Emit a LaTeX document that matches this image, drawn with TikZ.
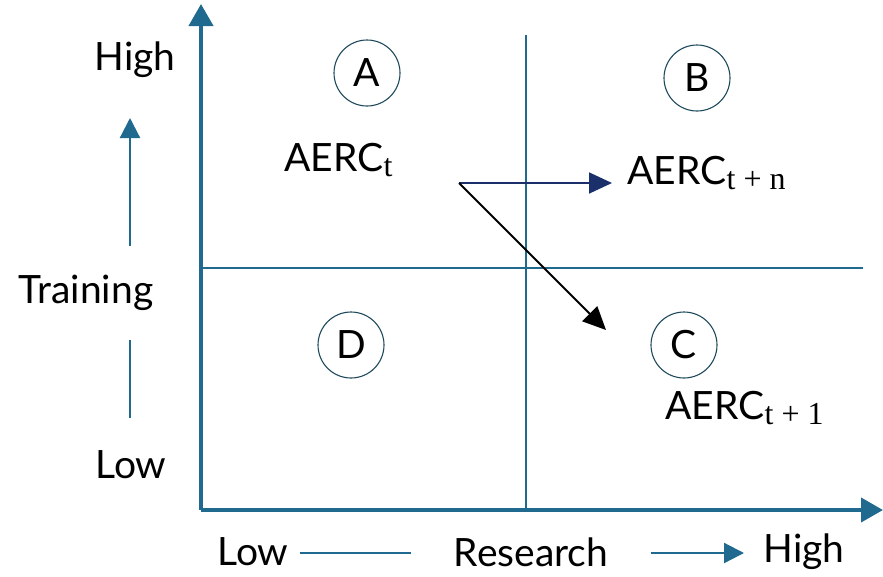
\documentclass[tikz,border=0pt]{standalone}
\usepackage{amsmath}
\usepackage{fontspec}
\setmainfont{Lato}
\newfontfamily\subfont{Liberation Serif}
\usepackage{tikz}
\usetikzlibrary{arrows.meta}
\usetikzlibrary{positioning}
\definecolor{axisblue}{HTML}{1F6A8E}
\definecolor{ringblue}{HTML}{1E4A5C}
\definecolor{navy}{HTML}{1B2F6B}
\newcommand{\aerc}[1]{AERC\raisebox{-5pt}{\subfont\fontsize{32}{34}\selectfont #1}}

\begin{document}
\begin{tikzpicture}[x=1pt,y=-1pt,
		every node/.style={font=\fontsize{39}{46}\selectfont},
		quad/.style={circle,draw=ringblue,line width=1.1pt,minimum size=66pt,inner sep=0pt},
		axis/.style={axisblue,line width=4pt,-{Triangle[length=22pt,width=24pt]}},
		grid/.style={axisblue,line width=2pt},
		guide/.style={axisblue,line width=2.2pt},
		guidetip/.style={guide,-{Triangle[length=20pt,width=20pt]}},
		move/.style={line width=1.8pt,-{Triangle[length=23pt,width=21pt]}}]
		\useasboundingbox (0,0) rectangle (883,576);

		% frame of the matrix
		\coordinate (origin) at (201,510);
		\coordinate (ytop)   at (201,4);
		\coordinate (xend)   at (883,510);
		\coordinate (vtop)   at (526,35);
		\coordinate (vbot)   at (526,510);
		\coordinate (hleft)  at (201,268);
		\coordinate (hright) at (863,268);

		\draw[grid] (vtop) -- (vbot);
		\draw[grid] (hleft) -- (hright);
		\draw[axis] (origin) -- (ytop);
		\draw[axis] (origin) -- (xend);

		% quadrants
		\node[quad] (A) at (367,73)  {A};
		\node[quad] (B) at (697,78)  {B};
		\node[quad] (D) at (351,345) {D};
		\node[quad] (C) at (684,345) {C};

		\node (at)  [anchor=west] at (281,160) {\aerc{t}};
		\node (atn) [anchor=west] at (624,173) {\aerc{t + n}};
		\node (at1) [anchor=west] at (662,408) {\aerc{t + 1}};

		\coordinate (move) at (459,183);
		\coordinate (mvB)  at (612,183);
		\coordinate (mvC)  at (606,330);
		\draw[move,navy] (move) -- (mvB);
		\draw[move,black] (move) -- (mvC);

		% training axis label
		\node (thigh) at (135,60)  {High};
		\node (train) at (86,293)  {Training};
		\node (tlow)  at (131,465) {Low};
		\coordinate (tu1) at (130,246);
		\coordinate (tu2) at (130,118);
		\coordinate (td1) at (130,340);
		\coordinate (td2) at (130,418);
		\draw[guidetip] (tu1) -- (tu2);
		\draw[guide] (td1) -- (td2);

		% research axis label
		\node (rlow)  at (253,552) {Low};
		\node (res)   at (531,552) {Research};
		\node (rhigh) at (804,552) {High};
		\coordinate (rl1) at (300,553);
		\coordinate (rl2) at (411,553);
		\coordinate (rr1) at (651,553);
		\coordinate (rr2) at (744,553);
		\draw[guide] (rl1) -- (rl2);
		\draw[guidetip] (rr1) -- (rr2);
\end{tikzpicture}
\end{document}
